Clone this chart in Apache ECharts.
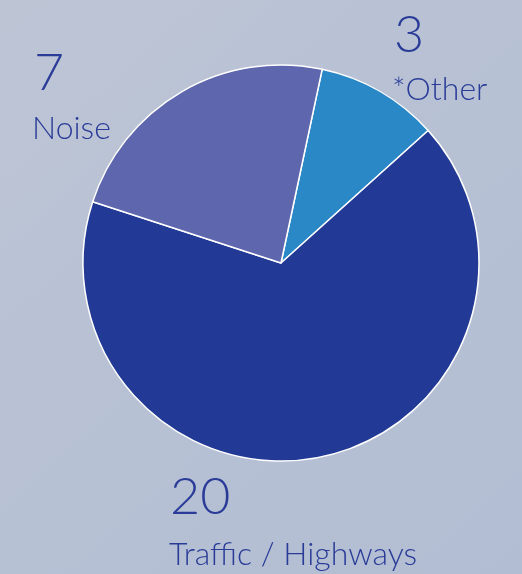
<!DOCTYPE html>
<html><head><meta charset="utf-8">
<script src="https://cdn.jsdelivr.net/npm/echarts@6/dist/echarts.min.js"></script>
<style>html,body{margin:0;padding:0;width:522px;height:574px;overflow:hidden}#c{width:522px;height:574px}</style>
</head><body><div id="c"></div>
<script>
const categories = ['*Other', 'Traffic / Highways', 'Noise'];
const values = [3, 20, 7];
const colors = ['#2b88c7', '#223a96', '#5e66ad'];
const labelPos = [[394, 9, 392, 74], [170, 471, 169, 539], [34, 47, 32, 113]];

const chart = echarts.init(document.getElementById('c'));
const font = 'Lato, "Noto Sans", sans-serif';
const graphics = [];
categories.forEach((c, i) => {
  const p = labelPos[i];
  graphics.push({type: 'text', left: p[0], top: p[1], style: {text: String(values[i]), font: '300 52px ' + font, fill: '#2a3c98'}});
  graphics.push({type: 'text', left: p[2], top: p[3], style: {text: c, font: '300 32px ' + font, fill: '#2a3c98'}});
});
chart.setOption({
  backgroundColor: {type: 'linear', x: 0, y: 0, x2: 1, y2: 1, colorStops: [{offset: 0, color: '#bdc5d5'}, {offset: 1, color: '#b2bdd3'}]},
  animation: false,
  graphic: graphics,
  series: [{
    type: 'pie',
    center: [281, 263],
    radius: 198,
    startAngle: 78,
    clockwise: true,
    label: {show: false},
    labelLine: {show: false},
    itemStyle: {borderColor: '#ffffff', borderWidth: 1.5},
    data: categories.map((c, i) => ({name: c, value: values[i], itemStyle: {color: colors[i]}}))
  }]
});
</script></body></html>
